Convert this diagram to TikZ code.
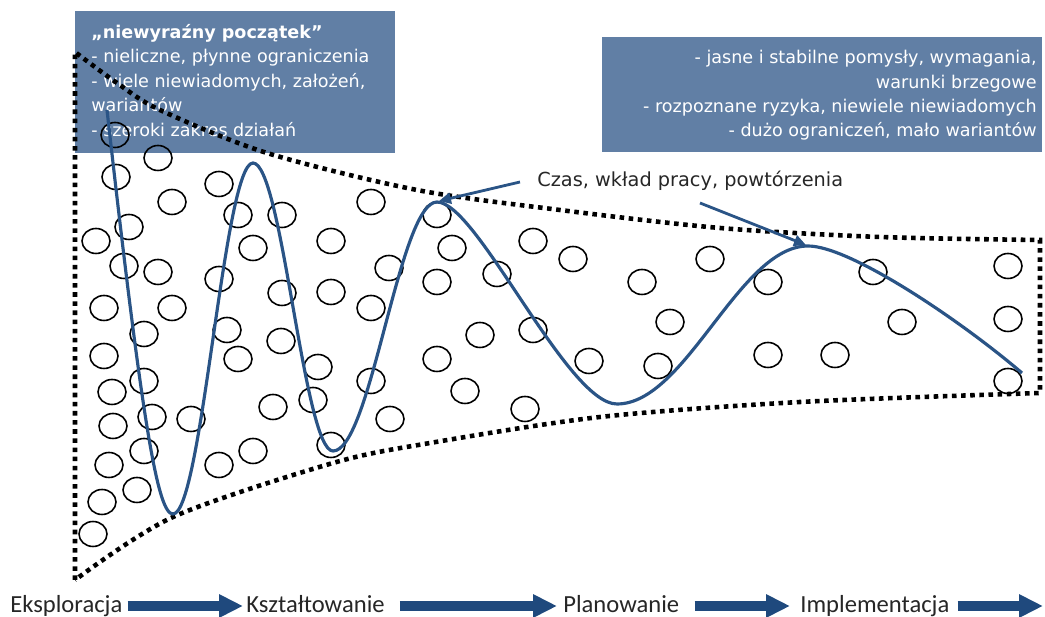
\documentclass[tikz,border=0pt]{standalone}
\usepackage{fontspec}
\setmainfont{DejaVu Sans}
\newfontfamily\stagefont{Carlito}
\usetikzlibrary{arrows.meta,shapes.geometric}

\definecolor{boxblue}{HTML}{617FA5}
\definecolor{waveblue}{HTML}{2A5486}
\definecolor{flowblue}{HTML}{1F497D}
\definecolor{ink}{HTML}{262626}

\begin{document}
\begin{tikzpicture}[x=0.02cm,y=-0.02cm,
  infobox/.style={fill=boxblue, draw=none, inner sep=0, anchor=north west},
  boxtext/.style={text=white, inner sep=0, font=\fontsize{10pt}{13.9pt}\selectfont},
  bubble/.style={draw=black, ellipse, line width=0.9pt, minimum width=0.56cm, minimum height=0.5cm, inner sep=0},
  funnel/.style={draw=black, line width=2.6pt, dash pattern=on 2.6pt off 2.6pt},
  wave/.style={draw=waveblue, line width=1.8pt},
  pointer/.style={draw=waveblue, line width=1.6pt, -{Triangle[length=0.24cm,width=0.22cm]}},
  stage/.style={font=\stagefont\fontsize{14pt}{14pt}\selectfont, text=ink, inner sep=0,
    text height=0.36cm, text depth=0.08cm, anchor=west},
  flow/.style={draw=flowblue, line width=0.2cm, -{Triangle[length=0.48cm,width=0.44cm]}},
]
\useasboundingbox (0,0) rectangle (1045,617);

% information panels
\node[infobox, minimum width=6.4cm, minimum height=2.84cm] (box1) at (75,11) {};
\node[infobox, minimum width=8.8cm, minimum height=2.3cm] (box2) at (602,37) {};
\node[boxtext, anchor=north west, align=left] (note1) at (91,24)
  {\textbf{„niewyraźny początek”}\\
   - nieliczne, płynne ograniczenia\\
   - wiele niewiadomych, założeń,\\
   wariantów\\
   - szeroki zakres działań};
\node[boxtext, anchor=north east, align=right] (note2) at (1037,50)
  {- jasne i stabilne pomysły, wymagania,\\
   warunki brzegowe\\
   - rozpoznane ryzyka, niewiele niewiadomych\\
   - dużo ograniczeń, mało wariantów};

% dotted funnel outline
\draw[funnel] (75,580) -- (75,52)
  -- plot[smooth] coordinates {(75,52) (117,83) (160,110) (267,153) (417,190) (560,210) (720,228) (880,237) (1040,240)}
  -- (1040,393)
  -- plot[smooth] coordinates {(1040,393) (800,402) (600,417) (430,443) (333,463) (173,517) (75,580)};

% ideas, assumptions and variants
\foreach \cx/\cy [count=\i] in {
  115/135, 158/158, 116/177, 219/184, 172/202, 238/215, 282/215, 371/202,
  129/227, 96/241, 253/248, 331/241, 124/266, 158/272, 219/279, 389/268,
  282/293, 331/292, 104/308, 172/308, 371/308,
  144/334, 227/330, 281/341, 104/356, 238/359, 318/367, 144/381, 112/392,
  371/381, 273/407, 313/400, 152/417, 113/426, 191/419, 390/419, 144/451,
  109/465, 219/465, 253/451, 331/445, 137/490, 102/502, 93/534,
  437/215, 452/248, 533/241, 573/259, 497/274, 437/282, 642/282, 710/259,
  670/322, 480/335, 533/330, 437/359, 589/361, 658/366, 465/391, 525/409,
  768/282, 873/272, 902/322, 768/355, 835/355, 1008/266, 1008/319, 1008/381}
  \node[bubble] (c\i) at (\cx,\cy) {};

% converging iteration curve
\coordinate (pk3) at (439,201);
\coordinate (pk4) at (806,245);
\draw[wave] (107,110) .. controls (143,430) and (158,514) .. (173,514)
  .. controls (202,514) and (224,163) .. (253,163)
  .. controls (282,163) and (304,451) .. (333,451)
  .. controls (371,451) and (399,202) .. (437,202)
  .. controls (477,202) and (567,404) .. (617,404)
  .. controls (686,404) and (739,246) .. (808,246)
  .. controls (850,246) and (960,320) .. (1022,373);

% effort annotation
\node[font=\fontsize{11pt}{13pt}\selectfont, text=ink, anchor=west, inner sep=0] (note3) at (537,181)
  {Czas, wkład pracy, powtórzenia};
\coordinate (p1) at (520,182);
\coordinate (p2) at (700,203);
\draw[pointer] (p1) -- (pk3);
\draw[pointer] (p2) -- (pk4);

% process stages
\node[stage] (s1) at (10,606) {Eksploracja};
\node[stage] (s2) at (246,606) {Kształtowanie};
\node[stage] (s3) at (563,606) {Planowanie};
\node[stage] (s4) at (800,606) {Implementacja};
\coordinate (send) at (1043,606);
\draw[flow] ([xshift=0.1cm]s1.east) -- ([xshift=-0.06cm]s2.west);
\draw[flow] ([xshift=0.3cm]s2.east) -- ([xshift=-0.12cm]s3.west);
\draw[flow] ([xshift=0.3cm]s3.east) -- ([xshift=-0.2cm]s4.west);
\draw[flow] ([xshift=0.16cm]s4.east) -- (send);
\end{tikzpicture}
\end{document}
